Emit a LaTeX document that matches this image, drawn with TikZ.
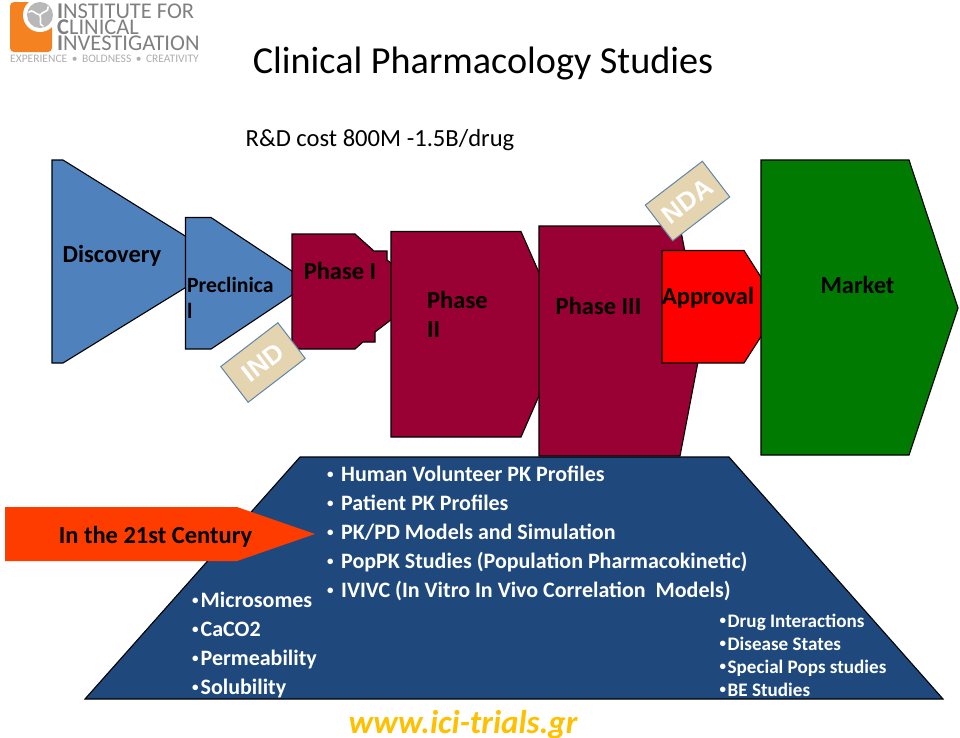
\documentclass[tikz,border=0pt]{standalone}
\usepackage{fontspec}
\setmainfont{Carlito}
\newfontfamily\stampfont{Liberation Sans}
\definecolor{bluearrow}{HTML}{4F81BD}
\definecolor{wine}{HTML}{990033}
\definecolor{marketgreen}{HTML}{007A00}
\definecolor{navy}{HTML}{1F497D}
\definecolor{redarrow}{HTML}{FF3C00}
\definecolor{stamp}{HTML}{E4D4B0}
\definecolor{stampline}{HTML}{5F86A8}
\definecolor{logoorange}{HTML}{F58220}
\definecolor{urlgold}{HTML}{FFC000}
\newcommand{\listdot}{{\fontsize{13}{13}\selectfont\raisebox{2.5pt}{\textbullet}}}
\tikzset{
    stage/.style={draw=black, line width=1.1pt, line join=miter},
    stagetext/.style={font=\fontsize{#1}{#1}\selectfont\bfseries, inner sep=0pt, align=left},
    stagetext/.default=24.5,
    stamptag/.style={draw=stampline, line width=1pt, fill=stamp, text=white, rotate=37.5, minimum width=72, minimum height=45,
        inner sep=0pt, font=\fontsize{26}{26}\selectfont\stampfont\bfseries},
    listline/.style={anchor=base west, text=white, inner sep=0pt, font=\fontsize{#1}{#1}\selectfont\bfseries},
    logoline/.style={anchor=west, inner sep=0pt, text=black!50, font=\fontsize{22.5}{22.5}\selectfont}
}
\begin{document}
\begin{tikzpicture}[x=1pt, y=-1pt]
    \useasboundingbox (0,0) rectangle (960,737);
    % logo
    \fill[logoorange, rounded corners=4] (10,2) rectangle (52,52);
    \fill[white] (40,15) circle (17);
    \fill[black!28] (40,15) circle (13);
    \foreach \a in {30,150,270} {
        \draw[white, line width=1.6pt, line cap=round, rotate around={\a:(40,15)}] (40,15) .. controls (46,13) and (49,17) .. (51,12);
    }
    \node[logoline] (logoa) at (57,11) {\textbf{I}NSTITUTE FOR};
    \node[logoline] (logob) at (57,27) {\textbf{C}LINICAL};
    \node[logoline] (logoc) at (57,43) {\textbf{I}NVESTIGATION};
    \node[anchor=west, inner sep=0pt, text=black!32, font=\fontsize{11.5}{11.5}\selectfont] (motto) at (10,59) {EXPERIENCE \,•\, BOLDNESS \,•\, CREATIVITY};
    % title
    \node[inner sep=0pt, font=\fontsize{38.2}{38.2}\selectfont] (title) at (483,64) {Clinical Pharmacology Studies};
    \node[inner sep=0pt, font=\fontsize{24.6}{24.6}\selectfont] (cost) at (380,140) {R\&D cost 800M -1.5B/drug};
    % stages, later ones on top
    \draw[stage, fill=bluearrow] (52,160) -- (63,160) -- (227,262) -- (63,363) -- (52,363) -- cycle;
    \draw[stage, fill=bluearrow] (185.5,217.5) -- (211,217.5) -- (310,283) -- (211,349) -- (185.5,349) -- cycle;
    \draw[stage, fill=wine] (292,234) -- (355,234) -- (374,251) -- (387,251) -- (387,260) -- (400,270) -- (400,313) -- (375,332)
        -- (375,342) -- (363,342) -- (355,349) -- (292,349) -- cycle;
    \draw[stage, fill=wine] (391,231.5) -- (521,231.5) -- (566,334) -- (521,437) -- (391,437) -- cycle;
    \draw[stage, fill=wine] (539,226) -- (680,226) -- (702,341) -- (680,456) -- (539,456) -- cycle;
    \draw[stage, fill=red] (662,250.5) -- (744,250.5) -- (780,307) -- (744,363) -- (662,363) -- cycle;
    \draw[stage, fill=marketgreen] (761,160) -- (909,160) -- (958,308) -- (909,455) -- (761,455) -- cycle;
    \node[stagetext] (discovery) at (112,256) {Discovery};
    \node[stagetext=21.7, anchor=north west] (preclinical) at (187,277) {Preclinica\\[4pt]l};
    \node[stagetext] (phasei) at (340,271) {Phase I};
    \node[stagetext, anchor=north west] (phaseii) at (427,291) {Phase\\[5pt]II};
    \node[stagetext] (phaseiii) at (598.5,306) {Phase III};
    \node[stagetext] (approval) at (708,298) {Approval};
    \node[stagetext] (market) at (857.5,285) {Market};
    \node[stamptag] (ind) at (263,362.5) {IND};
    \node[stamptag] (nda) at (687.5,201) {NDA};
    % lower panel
    \draw[stage, fill=navy] (85,699) -- (300,457) -- (729,457) -- (943,699) -- cycle;
    \fill[redarrow] (5,507) -- (237,507) -- (315,534) -- (237,561) -- (5,561) -- cycle;
    \node[stagetext] (century) at (155.5,537) {In the 21st Century};
    \foreach \txt [count=\i] in {Human Volunteer PK Profiles, Patient PK Profiles, PK/PD Models and Simulation,
        PopPK Studies (Population Pharmacokinetic), IVIVC (In Vitro In Vivo Correlation\ \ Models)} {
        \node[listline=22] (pk\i) at (327,452+29*\i) {\listdot\hspace{7.5pt}\txt};
    }
    \foreach \txt [count=\i] in {Microsomes, CaCO2, Permeability, Solubility} {
        \node[listline=22] (invitro\i) at (192,578+29*\i) {\listdot\hspace{2pt}\txt};
    }
    \foreach \txt [count=\i] in {Drug Interactions, Disease States, Special Pops studies, BE Studies} {
        \node[listline=19.1] (later\i) at (719.5,604+23*\i) {\listdot\hspace{1.5pt}\txt};
    }
    \node[anchor=base, inner sep=0pt, text=urlgold, font=\fontsize{33}{33}\selectfont\bfseries\itshape] (url) at (463,733) {www.ici-trials.gr};
\end{tikzpicture}
\end{document}
